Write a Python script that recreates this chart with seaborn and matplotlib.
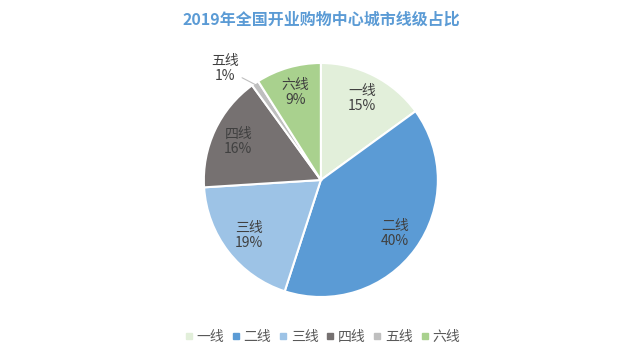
import matplotlib
matplotlib.use("Agg")
import matplotlib.pyplot as plt
import seaborn as sns
import numpy as np

categories = ["一线", "二线", "三线", "四线", "五线", "六线"]
values = [15, 40, 19, 16, 1, 9]
colors = ["#E2EFDA", "#5B9BD5", "#9DC3E6", "#767171", "#BFBFBF", "#A9D18E"]
title = "2019年全国开业购物中心城市线级占比"

sns.set_theme(style="white")
plt.rcParams['font.family'] = ['Noto Sans CJK SC', 'DejaVu Sans']

fig = plt.figure(figsize=(6.43, 3.6), dpi=100)
ax = fig.add_axes([0.317, 0.175, 0.364, 0.65])
palette = sns.color_palette(colors)

wedges, _ = ax.pie(values, colors=palette, startangle=90, counterclock=False,
                   wedgeprops=dict(edgecolor="white", linewidth=1.5), radius=1)
ax.set_xlim(-1, 1)
ax.set_ylim(-1, 1)
ax.set_aspect("equal")

total = sum(values)
cum = 0
for i, (c, v) in enumerate(zip(categories, values)):
    mid = 90 - 360 * (cum + v / 2) / total
    cum += v
    rad = np.deg2rad(mid)
    txt = f"{c}\n{v}%"
    if v < 3:
        x0, y0 = np.cos(rad), np.sin(rad)
        ax.annotate(txt, xy=(x0 * 0.98, y0 * 0.98), xytext=(-0.82, 0.95),
                    ha="center", va="center", fontsize=10, color="#404040",
                    linespacing=1.1,
                    arrowprops=dict(arrowstyle="-", color="#BFBFBF", lw=0.8,
                                    shrinkA=0, shrinkB=0),
                    annotation_clip=False)
    else:
        d = 0.78
        ax.text(d * np.cos(rad), d * np.sin(rad), txt, ha="center", va="center",
                fontsize=10, color="#404040", linespacing=1.1)

fig.text(0.5, 0.945, title, ha="center", va="center", fontsize=11.5,
         fontweight="bold", color="#5B9BD5")

handles = [plt.Line2D([], [], marker="s", linestyle="", markersize=5,
                      markerfacecolor=col, markeredgecolor=col) for col in colors]
fig.legend(handles, categories, loc="center", bbox_to_anchor=(0.5, 0.063),
           ncol=6, frameon=False, fontsize=10, handletextpad=0.15,
           handlelength=0.8, columnspacing=0.45, labelcolor="#595959")

fig.savefig("out.png", dpi=100, facecolor="white")
